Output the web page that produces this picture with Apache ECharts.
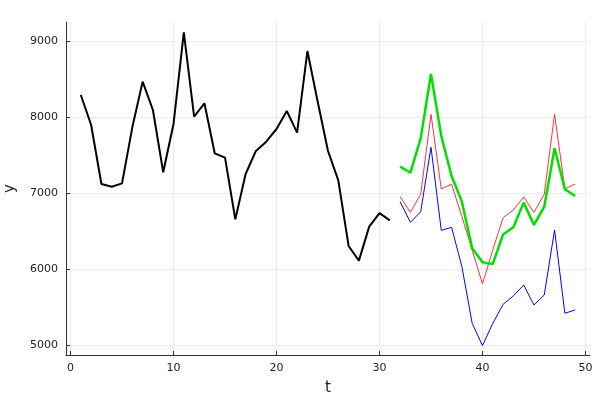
<!DOCTYPE html>
<html>
<head>
<meta charset="utf-8">
<script src="https://cdn.jsdelivr.net/npm/echarts@6/dist/echarts.min.js"></script>
<style>html,body{margin:0;padding:0;background:#fff}#c{width:600px;height:400px}</style>
</head>
<body>
<div id="c"></div>
<script>
// Data
const histT = [1,2,3,4,5,6,7,8,9,10,11,12,13,14,15,16,17,18,19,20,21,22,23,24,25,26,27,28,29,30,31];
const histY = [8289,7895,7118,7083,7127,7864,8465,8092,7272,7908,9114,8004,8180,7522,7465,6653,7250,7553,7675,7842,8079,7794,8868,8201,7553,7165,6303,6110,6557,6735,6640];
const fcT = [32,33,34,35,36,37,38,39,40,41,42,43,44,45,46,47,48,49];
const redY = [6952,6746,6983,8036,7053,7116,6689,6250,5803,6250,6675,6776,6947,6746,6983,8036,7053,7118];
const blueY = [6886,6614,6754,7601,6508,6548,6031,5285,4991,5285,5535,5645,5789,5526,5658,6513,5417,5461];
const greenY = [7346,7267,7719,8566,7750,7224,6886,6272,6088,6066,6454,6548,6873,6579,6820,7588,7049,6961];
const xTicks = [0,10,20,30,40,50];
const yTicks = [5000,6000,7000,8000,9000];

const zip = (a,b) => a.map((v,i)=>[v,b[i]]);
const chart = echarts.init(document.getElementById('c'), null, {renderer:'canvas'});
const axisCommon = {
  axisLine:{show:true, onZero:false, lineStyle:{color:'#333', width:1}},
  axisTick:{show:true, inside:true, length:4, lineStyle:{color:'#333'}},
  axisLabel:{color:'#222', fontSize:11, fontFamily:'DejaVu Sans', formatter:v=>String(v)},
  splitLine:{show:true, lineStyle:{color:'#ebebeb', width:1}},
  nameTextStyle:{color:'#222', fontSize:15, fontFamily:'DejaVu Sans'}
};
chart.setOption({
  animation:false,
  grid:{left:66, right:10, top:22, bottom:45, containLabel:false, outerBoundsMode:'none'},
  xAxis:Object.assign({}, axisCommon, {
    type:'value', min:-0.44, max:50.44, name:'t', nameLocation:'middle', nameGap:26,
    axisTick:Object.assign({}, axisCommon.axisTick, {customValues:xTicks}),
    axisLabel:Object.assign({}, axisCommon.axisLabel, {customValues:xTicks, margin:8}),
  }),
  yAxis:Object.assign({}, axisCommon, {
    type:'value', min:4868, max:9250, name:'y', nameLocation:'middle', nameGap:48, nameRotate:90,
    axisTick:Object.assign({}, axisCommon.axisTick, {customValues:yTicks}),
    axisLabel:Object.assign({}, axisCommon.axisLabel, {customValues:yTicks, margin:8}),
  }),
  series:[
    {type:'line', data:zip(histT,histY), showSymbol:false, lineStyle:{color:'#000', width:2}, itemStyle:{color:'#000'}},
    {type:'line', data:zip(fcT,redY), showSymbol:false, lineStyle:{color:'#ff3333', width:1}, itemStyle:{color:'#ff3333'}},
    {type:'line', data:zip(fcT,blueY), showSymbol:false, lineStyle:{color:'#0000ff', width:1}, itemStyle:{color:'#0000ff'}},
    {type:'line', data:zip(fcT,greenY), showSymbol:false, lineStyle:{color:'#00e000', width:2.5}, itemStyle:{color:'#00e000'}}
  ]
});
</script>
</body>
</html>
